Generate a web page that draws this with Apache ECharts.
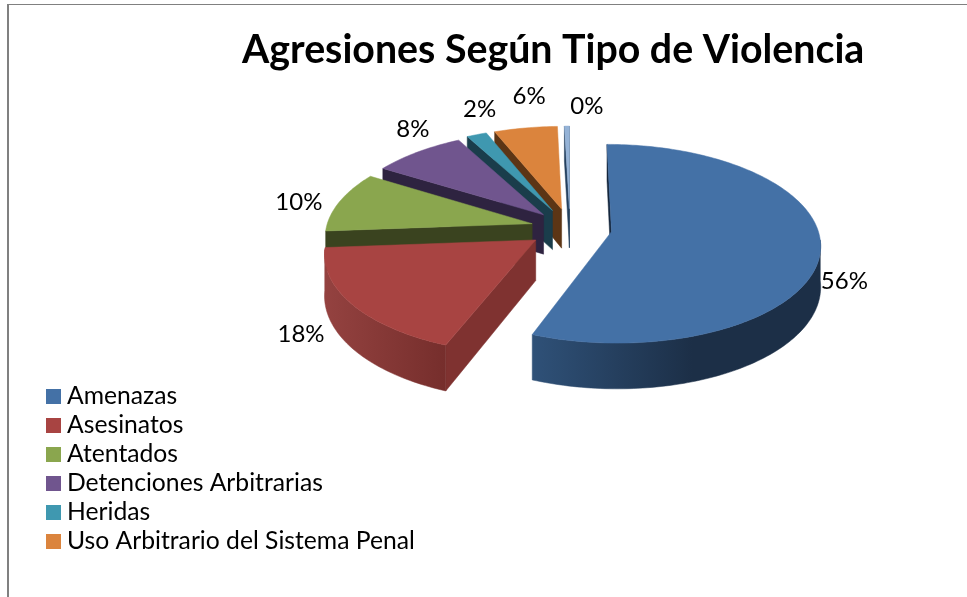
<!DOCTYPE html>
<html><head><meta charset="utf-8">
<style>html,body{margin:0;padding:0;background:#fff}#c{width:967px;height:597px}</style>
<script src="https://cdn.jsdelivr.net/npm/echarts@6/dist/echarts.min.js"></script>
</head><body><div id="c"></div>
<script>
const categories = ['Amenazas','Asesinatos','Atentados','Detenciones Arbitrarias','Heridas','Uso Arbitrario del Sistema Penal','Otros'];
const legendNames = categories.slice(0,6);
const values = [55.9,17.9,10,8.3,1.8,5.65,0.45];
const topColors = ['#4471A6','#A84442','#8AA64E','#70558E','#3F98B0','#DB843D','#95B3D7'];
const wallLeft = ['#2F5178','#944240','#3A431F','#2E2340','#1A3D4B','#5C3515','#5A7390'];
const wallRight = ['#1C2F47','#762E2C','#3A431F','#2E2340','#1A3D4B','#5C3515','#1C2F47'];
const cutColors = ['#14263C','#7F3230','#3A431F','#2E2340','#1A3D4B','#5C3515','#24405F'];
const explodeBy = [0.204,0.204,0.19,0.19,0.204,0.204,0.204];
// [radial factor, dx, dy] for each percentage label
const labelPlace = [[1.32,-1,29],[1.45,-1,13],[1.42,2,6],[1.3,8,-16],[1.25,6,-22],[1.25,5,-28],[1.25,20,-16]];

const CX=570, CY=228, A=206, B=97, K=0.121, DEPTH=40;
const total = values.reduce((a,b)=>a+b,0);
function proj(X,Y){const p=1/(1-K*Y);return [CX+A*X*p, CY+B*Y*p, p];}
function down(P){return [P[0],P[1]+DEPTH*P[2]];}
function area(pts){let s=0;for(let i=0;i<pts.length;i++){const a=pts[i],b=pts[(i+1)%pts.length];s+=a[0]*b[1]-b[0]*a[1];}return s/2;}

function renderSlice(i){
  let before=0; for(let j=0;j<i;j++) before+=values[j];
  const t0=before/total*2*Math.PI, t1=(before+values[i])/total*2*Math.PI, tm=(t0+t1)/2;
  const ex=explodeBy[i]*Math.sin(tm), ey=-explodeBy[i]*Math.cos(tm);
  const apex=proj(ex,ey), rim=[], front=[];
  const n=Math.max(4,Math.ceil((t1-t0)/0.02));
  for(let k=0;k<=n;k++){
    const t=t0+(t1-t0)*k/n, P=proj(ex+Math.sin(t),ey-Math.cos(t));
    rim.push(P);
    if(-Math.cos(t)>0.08) front.push(P);
  }
  const P2=p=>[p[0],p[1]];
  const kids=[];
  const poly=(pts,fill)=>kids.push({type:'polygon',shape:{points:pts},style:{fill:fill,stroke:fill,lineWidth:0.5},silent:true});
  // cut faces
  const wallA=[P2(apex),P2(rim[0]),P2(down(rim[0])),P2(down(apex))];
  const wallB=[P2(rim[n]),P2(apex),P2(down(apex)),P2(down(rim[n]))];
  if(area(wallA)<0) poly(wallA,cutColors[i]);
  if(area(wallB)<0) poly(wallB,cutColors[i]);
  // outer wall (front part of the rim only)
  if(front.length>1){
    const xs=front.map(p=>p[0]), minX=Math.min(...xs), maxX=Math.max(...xs);
    const band=front.map(P2).concat(front.slice().reverse().map(p=>P2(down(p))));
    poly(band,{type:'linear',x:minX,y:0,x2:minX+Math.min(maxX-minX,160),y2:0,global:true,
      colorStops:[{offset:0,color:wallLeft[i]},{offset:1,color:wallRight[i]}]});
  }
  // top face
  poly([P2(apex)].concat(rim.map(P2)),topColors[i]);
  // label
  const lp=labelPlace[i], L=proj(lp[0]*Math.sin(tm),-lp[0]*Math.cos(tm));
  kids.push({type:'text',silent:true,style:{text:Math.round(values[i])+'%',x:L[0]+lp[1],y:L[1]+lp[2],
    fill:'#000',font:'24px Lato',align:'center',verticalAlign:'middle'},z2:10});
  return {type:'group',children:kids};
}

const chart=echarts.init(document.getElementById('c'));
chart.setOption({
  animation:false,
  backgroundColor:'#fff',
  title:{text:'Agresiones Según Tipo de Violencia',left:242,top:31,padding:0,
    textStyle:{fontFamily:'Lato',fontWeight:'bold',fontSize:39.3,color:'#000'}},
  legend:{data:legendNames,orient:'vertical',left:46,top:384,padding:0,itemWidth:15,itemHeight:15,itemGap:4,
    icon:'rect',selectedMode:false,textStyle:{fontFamily:'Lato',fontSize:24.7,color:'#000',padding:[0,0,0,1],height:24,lineHeight:24}},
  graphic:[
    {type:'line',shape:{x1:7,y1:4.5,x2:967,y2:4.5},style:{stroke:'#808080',lineWidth:1}},
    {type:'line',shape:{x1:8,y1:4,x2:8,y2:597},style:{stroke:'#808080',lineWidth:2}}
  ],
  series:categories.map((name,i)=>({
    type:'custom',name:name,coordinateSystem:'none',z:10-i,
    itemStyle:{color:topColors[i]},
    data:[values[i]],
    renderItem:()=>renderSlice(i)
  }))
});
</script></body></html>
